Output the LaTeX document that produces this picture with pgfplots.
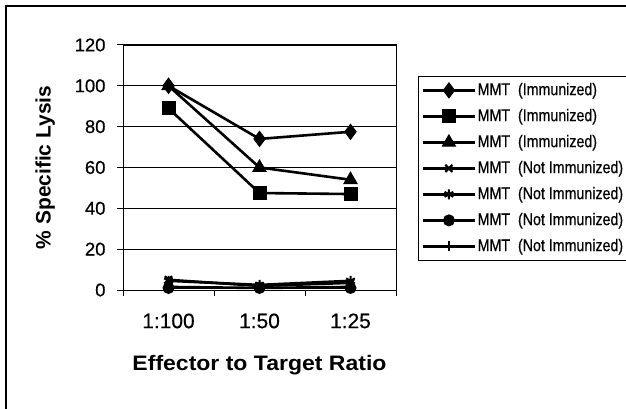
\documentclass[border=0pt]{standalone}
\usepackage{pgfplots}
\pgfplotsset{compat=1.18}
\usepackage{fontspec}
\setmainfont{Liberation Sans}
\newfontfamily\scanfont[FakeBold=0.5]{Liberation Sans}
\usepackage{graphicx}
\newcommand{\legtxt}[1]{\scalebox{0.84}[1]{#1}}
\begin{document}
\begin{tikzpicture}[x=1bp,y=1bp]
\useasboundingbox (0,0) rectangle (626,408);
\fill[white] (0,0) rectangle (626,408);
\draw[line width=1.2bp] (6,-5) -- (6,402) -- (640,402);
\begin{axis}[
  at={(123bp,118bp)}, anchor=south west,
  scale only axis, width=273bp, height=245bp,
  xmin=-0.5, xmax=2.5, ymin=0, ymax=120,
  xtick={-0.5,0.5,1.5,2.5}, x tick label as interval,
  xticklabels={1:100,1:50,1:25},
  ytick={0,20,40,60,80,100,120},
  ymajorgrids, grid style={black, line width=0.8bp},
  axis line style={black, line width=1bp},
  tick style={black, line width=1bp},
  major tick length=6bp,
  tick align=outside,
  xtick pos=bottom, ytick pos=left,
  /pgf/number format/assume math mode=true,
  yticklabel style={font=\scanfont\fontsize{18.5}{18.5}\selectfont, xshift=-8bp},
  xticklabel style={font=\scanfont\fontsize{21}{21}\selectfont, yshift=-14bp},
  xlabel={\scalebox{1.1}[1]{Effector to Target Ratio}},
  ylabel={\% Specific Lysis},
  xlabel style={font=\fontsize{21}{21}\selectfont\bfseries, yshift=-20bp},
  ylabel style={font=\fontsize{21}{21}\selectfont\bfseries, yshift=13bp},
  every axis plot/.append style={black, line width=2.6bp, mark options={solid, fill=black, line width=1bp}},
  legend style={at={(1.081,0.873)}, anchor=north west, draw=black, line width=1bp,
    font=\scanfont\fontsize{17}{17}\selectfont, row sep=4.5bp, inner sep=3bp,
    nodes={inner sep=1.5bp, text height=14bp, text depth=4.5bp}},
  legend cell align=left,
  legend image code/.code={\draw[mark repeat=2,mark phase=2] plot coordinates {(0bp,0bp) (26bp,0bp) (52bp,0bp)};},
]
\addplot[mark=diamond*, mark size=7.5bp] coordinates {(0,100) (1,74) (2,77.5)};
\addlegendentry{\legtxt{MMT\ \ (Immunized)}}
\addplot[mark=square*, mark size=6.5bp] coordinates {(0,89) (1,47.5) (2,47)};
\addlegendentry{\legtxt{MMT\ \ (Immunized)}}
\addplot[mark=triangle*, mark size=7.5bp] coordinates {(0,100) (1,60) (2,54)};
\addlegendentry{\legtxt{MMT\ \ (Immunized)}}
\addplot[mark=x, mark size=5bp, mark options={line width=2.2bp}] coordinates {(0,5) (1,2) (2,3.5)};
\addlegendentry{\legtxt{MMT\ \ (Not Immunized)}}
\addplot[mark=asterisk, mark size=5bp, mark options={line width=2bp}] coordinates {(0,4.5) (1,2.5) (2,4.5)};
\addlegendentry{\legtxt{MMT\ \ (Not Immunized)}}
\addplot[mark=*, mark size=5.5bp] coordinates {(0,1) (1,1) (2,1)};
\addlegendentry{\legtxt{MMT\ \ (Not Immunized)}}
\addplot[mark=|, mark size=5bp, mark options={line width=2bp}] coordinates {(0,1.5) (1,1) (2,1.5)};
\addlegendentry{\legtxt{MMT\ \ (Not Immunized)}}
\end{axis}
\end{tikzpicture}
\end{document}
